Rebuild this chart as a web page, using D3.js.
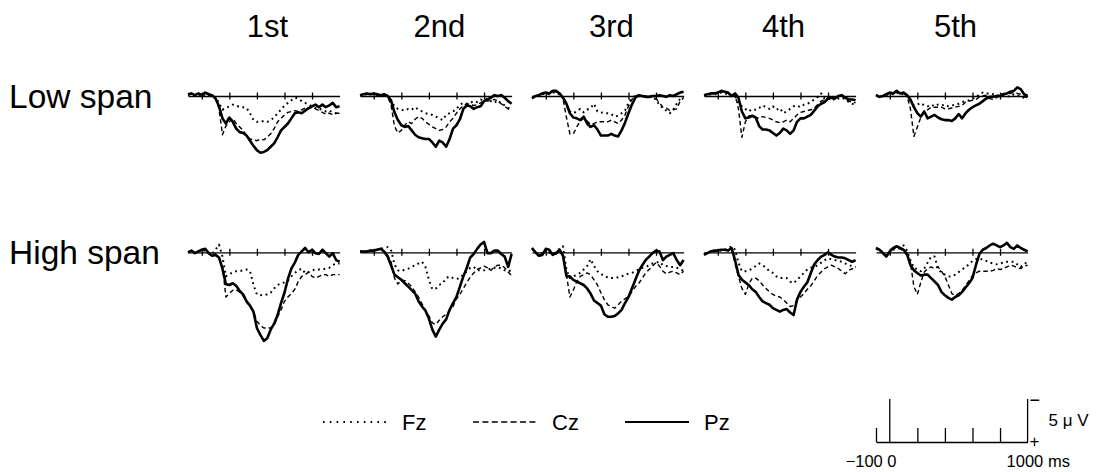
<!DOCTYPE html>
<html><head><meta charset="utf-8">
<script src="https://cdn.jsdelivr.net/npm/d3@7"></script>
<style>
html,body{margin:0;padding:0;background:#fff;}
svg{display:block;font-family:"Liberation Sans",Arial,Helvetica,sans-serif;}
</style></head><body>
<svg id="chart" width="1100" height="472"></svg>
<script>
// Sampling grid of the averaged waveforms (ms, 25 ms steps)
const times = d3.range(-100, 1001, 25);

const trialLabels = ["1st", "2nd", "3rd", "4th", "5th"];
const groupLabels = ["Low span", "High span"];
const channels = ["Fz", "Cz", "Pz"];
const timeTicks = [0, 200, 400, 600, 800];
const scaleTicks = [-100, 200, 400, 600, 800];
const scaleAmplitude = 5; // µV

// Amplitudes in µV (positive plotted downward, negative up)
// ---- Low span ----
const fzLow1 = [-0.1,-0.2,-0.1,-0.2,0.0,-0.2,-0.1,0.0,0.2,0.8,1.6,1.4,1.2,1.0,1.1,
  1.3,1.3,1.4,2.0,2.8,3.0,3.0,2.9,3.0,2.8,2.5,2.0,1.6,1.1,0.8,
  0.5,0.2,0.3,0.6,0.8,1.0,1.2,1.4,1.5,1.6,1.8,1.7,1.9,2.0,2.1];
const czLow1 = [-0.2,-0.3,-0.1,-0.3,-0.1,-0.3,-0.2,-0.1,0.2,1.5,4.5,3.5,3.0,2.6,3.2,
  3.6,4.0,4.6,5.0,5.1,5.2,5.0,5.1,4.8,4.4,3.8,3.0,2.6,2.2,1.9,
  1.8,1.7,1.8,1.6,1.4,1.5,1.3,1.5,1.7,1.9,2.1,2.0,2.2,2.0,2.0];
const pzLow1 = [-0.2,-0.3,-0.1,-0.3,-0.1,-0.4,-0.2,-0.1,0.3,1.2,2.6,3.2,2.5,3.0,3.8,
  4.2,4.3,4.6,5.2,5.8,6.3,6.6,6.5,6.3,5.9,5.5,4.8,4.0,3.6,3.2,
  2.6,2.0,1.9,2.0,1.7,1.4,1.2,1.0,1.3,1.0,1.3,1.1,0.8,1.3,1.2];

const fzLow2 = [-0.1,-0.1,-0.2,-0.2,-0.2,-0.1,-0.1,-0.1,0.0,0.5,1.2,1.5,1.6,1.7,1.5,
  1.6,1.3,1.6,1.8,2.0,2.1,2.2,2.4,2.6,2.8,2.2,2.0,1.8,1.5,1.0,
  0.8,0.9,0.8,0.6,0.7,0.4,0.5,0.3,0.6,0.8,0.5,0.9,1.1,1.4,1.5];
const czLow2 = [-0.1,-0.2,-0.2,-0.3,-0.2,-0.2,-0.1,-0.1,0.1,1.0,3.5,4.3,4.0,3.4,3.0,
  3.2,2.7,2.4,2.6,3.0,3.3,3.6,3.8,4.0,3.9,3.6,3.0,2.6,2.0,1.5,
  1.1,0.9,1.0,1.1,1.0,0.8,0.5,0.6,0.5,0.4,0.6,0.9,1.2,1.5,1.7];
const pzLow2 = [-0.1,-0.2,-0.3,-0.2,-0.3,-0.2,-0.1,-0.2,0.0,0.5,1.9,2.8,3.4,3.6,3.5,
  4.0,4.5,4.8,4.9,5.0,5.0,5.4,5.9,5.2,5.4,5.9,5.0,3.8,3.4,2.7,
  1.5,1.1,1.2,1.5,1.3,1.2,0.6,0.4,0.2,-0.1,0.0,-0.1,0.2,0.6,0.9];

const fzLow3 = [0.1,0.0,-0.1,-0.2,-0.3,-0.2,-0.4,-0.4,-0.2,0.2,1.0,1.8,2.0,1.8,1.5,
  1.9,1.6,1.4,0.9,1.8,1.9,2.0,2.0,2.1,2.4,2.3,2.0,1.7,0.8,0.2,
  0.0,0.0,0.1,0.0,0.1,0.2,0.4,1.1,1.4,1.7,2.0,1.6,0.9,0.3,0.1];
const czLow3 = [0.2,0.0,-0.1,-0.3,-0.3,-0.3,-0.5,-0.5,-0.3,0.3,2.5,4.4,4.4,3.6,2.9,
  2.6,2.9,3.3,3.2,3.0,3.0,3.0,3.0,2.8,3.0,3.2,2.8,2.2,1.2,0.4,
  0.0,-0.1,0.1,0.0,0.2,0.0,0.3,0.8,1.3,1.4,1.7,1.6,1.5,0.6,0.2];
const pzLow3 = [0.3,0.0,-0.1,-0.3,-0.4,-0.3,-0.6,-0.6,-0.3,0.2,0.9,2.0,2.5,2.6,2.8,
  2.4,3.2,3.6,3.4,3.9,4.6,4.6,4.6,4.4,4.6,4.7,4.0,3.1,2.0,1.0,
  0.2,-0.1,0.0,0.1,0.1,0.0,0.0,-0.1,0.0,0.1,-0.1,0.0,-0.2,-0.4,-0.5];

const fzLow4 = [-0.1,-0.1,-0.2,-0.2,-0.3,-0.4,-0.3,-0.2,0.0,0.0,0.8,1.2,1.5,1.8,1.5,
  1.6,1.4,1.1,1.3,1.5,1.2,1.6,1.4,2.0,1.8,1.5,1.2,1.1,1.3,1.0,
  0.9,0.7,0.4,0.1,-0.3,0.3,0.4,0.2,0.5,0.3,0.2,0.4,0.7,0.9,1.0];
const czLow4 = [-0.1,-0.2,-0.3,-0.3,-0.4,-0.5,-0.4,-0.3,0.0,-0.2,1.5,4.8,3.0,2.3,2.4,
  2.5,2.6,2.4,2.5,2.6,2.8,3.0,3.1,3.0,2.8,3.0,2.6,2.2,1.9,1.8,
  1.7,1.6,1.4,1.0,0.6,0.4,0.2,0.3,0.2,0.1,0.0,0.3,0.6,0.7,0.8];
const pzLow4 = [-0.1,-0.2,-0.3,-0.3,-0.4,-0.6,-0.5,-0.4,0.0,-0.3,0.2,1.8,2.6,2.5,2.3,
  2.5,3.5,3.9,3.9,4.0,4.3,4.6,4.3,3.8,4.0,4.4,4.0,3.0,2.6,2.6,
  2.4,2.2,1.7,1.2,0.9,0.7,0.3,0.2,0.3,0.0,-0.1,0.2,0.4,0.4,0.5];

const fzLow5 = [-0.1,0.0,0.0,-0.1,-0.3,-0.2,-0.4,-0.2,-0.2,0.0,0.6,1.1,1.0,0.8,1.1,
  1.2,1.0,1.2,1.0,1.1,1.0,1.2,1.1,1.0,0.9,0.7,0.6,0.5,0.3,0.2,
  -0.2,-0.4,-0.3,-0.3,-0.2,-0.1,0.0,-0.1,0.0,0.1,-0.2,-0.1,0.1,0.2,0.3];
const czLow5 = [-0.1,0.1,0.0,-0.2,-0.4,-0.3,-0.5,-0.3,-0.3,0.0,1.5,4.7,3.6,2.5,1.9,
  1.6,1.3,1.3,1.3,1.3,1.5,1.5,1.4,1.3,1.2,1.1,0.7,0.6,0.5,0.4,
  0.1,0.0,-0.1,0.3,0.4,0.2,-0.1,-0.3,-0.2,-0.3,-0.4,-0.3,-0.2,0.1,0.2];
const pzLow5 = [-0.1,0.1,0.0,-0.2,-0.4,-0.3,-0.6,-0.3,-0.4,-0.1,0.4,1.3,2.0,2.4,1.8,
  2.6,2.4,2.2,2.5,2.7,2.8,2.8,2.9,2.6,2.1,2.6,2.0,1.6,1.3,1.1,
  0.9,0.6,0.3,0.1,0.1,0.0,0.0,-0.2,-0.3,-0.5,-0.6,-1.0,-0.8,-0.2,0.0];

// ---- High span ----
const fzHigh1 = [0.0,-0.1,0.1,-0.1,-0.2,-0.2,0.1,0.2,-0.3,-0.9,0.5,2.8,2.5,2.4,2.2,
  2.2,2.1,2.0,2.2,3.8,4.9,5.0,4.9,4.9,4.7,4.2,3.8,3.6,3.5,3.3,
  2.8,2.4,2.1,1.9,2.4,2.3,2.1,2.0,2.0,2.0,1.9,1.8,1.5,1.3,1.3];
const czHigh1 = [0.0,-0.2,0.1,-0.1,-0.3,-0.3,0.1,0.3,0.2,0.8,1.6,5.2,4.8,4.4,4.4,
  4.6,5.1,5.7,6.3,6.9,8.0,8.5,8.8,8.8,8.8,8.5,7.5,6.7,5.7,5.2,
  4.8,4.3,3.4,2.8,2.6,2.3,2.8,3.0,2.8,2.6,2.6,2.8,2.6,2.6,2.6];
const pzHigh1 = [0.0,-0.2,0.1,-0.1,-0.3,-0.4,0.1,0.4,0.3,0.6,1.9,3.7,3.8,3.6,3.9,
  4.5,4.9,5.7,6.2,6.9,8.8,9.6,10.3,10.0,9.0,8.3,7.3,5.9,4.7,3.1,
  1.9,1.2,0.3,-0.1,-0.5,0.0,-0.3,0.1,0.2,-0.3,0.1,0.5,0.1,0.9,1.1];

const fzHigh2 = [-0.1,-0.1,-0.1,-0.2,-0.2,-0.3,-0.4,-0.5,-0.6,-0.3,1.4,2.1,2.2,2.0,1.9,
  1.7,1.5,1.3,1.1,1.7,3.2,4.3,4.2,3.8,3.6,3.0,2.8,3.0,3.1,3.0,
  2.6,2.2,1.8,1.7,2.1,2.1,2.1,2.0,1.9,1.8,1.7,1.9,2.1,2.2,2.1];
const czHigh2 = [-0.1,-0.1,-0.1,-0.2,-0.1,-0.3,-0.4,-0.1,0.3,1.1,3.0,3.7,3.2,3.3,3.6,
  4.0,4.6,5.2,6.0,6.7,7.4,8.2,8.4,7.9,7.5,7.2,6.8,6.3,5.4,4.9,
  4.2,3.5,2.9,2.4,2.0,1.8,1.6,1.8,2.1,1.7,1.5,1.5,1.8,2.3,2.7];
const pzHigh2 = [-0.1,-0.1,-0.1,-0.2,-0.2,-0.3,-0.4,-0.1,0.5,1.5,2.6,2.9,3.2,3.6,4.0,
  4.4,4.8,5.7,6.3,6.8,7.7,9.0,9.8,9.0,8.3,7.8,6.7,5.9,5.2,4.0,
  2.8,1.8,0.6,0.2,-0.4,-0.9,-1.2,0.1,0.1,-0.2,-0.2,0.2,0.5,1.7,0.2];

const fzHigh3 = [-0.4,0.0,0.2,0.1,-0.3,0.0,0.2,0.0,-0.4,-0.7,2.0,3.0,2.8,2.6,2.4,
  2.0,1.6,0.8,1.6,2.2,2.5,2.8,2.9,3.0,3.0,2.9,2.8,2.6,2.5,2.4,
  2.2,2.0,1.8,1.7,1.5,1.3,1.2,1.1,1.5,1.6,1.7,1.7,1.8,1.9,2.2];
const czHigh3 = [-0.5,0.1,0.3,0.2,-0.3,0.0,0.3,0.2,-0.1,0.4,2.6,5.2,4.4,3.4,2.8,
  2.6,2.4,2.6,3.2,3.8,4.7,5.5,6.1,6.3,6.5,6.1,5.7,5.4,5.2,4.6,
  4.0,3.6,3.0,2.4,2.0,1.6,1.2,1.6,2.2,2.5,2.3,2.2,2.4,2.6,2.2];
const pzHigh3 = [-0.5,0.0,0.4,0.3,-0.4,-0.3,0.3,0.1,-0.3,0.4,2.8,2.8,3.2,3.4,3.6,
  3.8,4.2,4.8,5.6,5.9,6.2,7.2,7.5,7.5,7.4,7.1,6.7,5.9,5.2,4.2,
  3.2,2.2,1.5,0.9,0.5,0.1,-0.2,-0.1,0.9,0.5,0.3,0.1,0.9,1.5,0.9];

const fzHigh4 = [0.2,0.0,-0.1,-0.1,-0.2,-0.2,-0.3,-0.4,-0.7,-0.3,1.2,2.2,2.2,2.1,1.9,
  1.6,1.3,1.5,1.8,2.2,2.4,2.8,3.0,3.0,3.0,3.4,3.6,3.2,2.8,2.4,
  2.0,1.8,1.7,1.5,1.2,0.9,0.7,0.8,0.9,1.0,1.1,1.3,1.5,1.6,1.7];
const czHigh4 = [0.3,0.1,-0.1,-0.2,-0.2,-0.3,-0.3,-0.2,-0.4,1.3,2.8,4.2,4.9,3.7,3.0,
  3.0,3.3,3.8,4.2,4.6,4.9,5.1,5.2,5.5,5.9,6.3,6.2,5.6,5.2,4.8,
  4.3,3.9,3.3,2.7,2.3,1.9,1.7,1.5,1.7,1.9,2.2,2.5,2.1,1.9,2.1];
const pzHigh4 = [0.3,0.1,-0.1,-0.2,-0.2,-0.3,-0.3,-0.2,-0.5,0.9,2.6,3.2,3.5,3.8,4.3,
  4.6,5.2,5.7,5.9,6.1,6.5,6.7,6.9,6.7,6.6,7.0,7.3,5.5,4.6,4.0,
  3.5,2.4,1.4,0.9,0.5,0.3,0.0,0.3,0.5,0.6,0.6,0.7,0.9,1.1,0.9];

const fzHigh5 = [-0.4,-0.3,0.0,0.4,0.0,-0.3,-0.4,-0.5,-0.8,-0.2,0.9,1.8,2.0,2.2,1.9,
  1.2,0.5,0.5,1.9,2.4,2.6,2.8,2.8,2.6,2.3,2.0,1.7,1.4,1.0,0.8,
  0.7,0.9,1.0,1.2,1.3,1.4,1.3,1.2,1.1,1.1,1.1,1.4,1.7,1.3,1.2];
const czHigh5 = [-0.5,-0.3,0.1,0.5,-0.1,-0.4,-0.6,-0.4,-0.2,0.4,1.2,4.0,4.9,3.5,2.3,
  1.9,1.7,1.9,1.7,2.2,2.8,3.8,4.8,5.0,4.8,4.4,3.9,3.3,2.7,2.4,
  2.2,2.2,2.2,2.2,2.1,1.9,2.0,1.9,1.7,1.5,1.6,1.8,1.9,1.6,1.5];
const pzHigh5 = [-0.5,-0.3,0.1,0.5,-0.1,-0.5,-0.7,-0.5,-0.3,0.2,1.5,2.1,2.4,2.7,2.6,
  2.6,3.0,3.4,3.8,4.6,5.0,5.3,5.5,5.2,5.0,4.6,4.1,3.6,3.0,1.5,
  0.2,-0.3,-0.5,-0.8,-1.0,-0.8,-0.6,-0.8,-1.1,-0.6,-0.4,-0.8,-0.5,-0.3,-0.1];

// Table of panels: rows = span groups, columns = presentation order
const panelRows = [
  [[fzLow1, czLow1, pzLow1], [fzLow2, czLow2, pzLow2], [fzLow3, czLow3, pzLow3],
   [fzLow4, czLow4, pzLow4], [fzLow5, czLow5, pzLow5]],
  [[fzHigh1, czHigh1, pzHigh1], [fzHigh2, czHigh2, pzHigh2], [fzHigh3, czHigh3, pzHigh3],
   [fzHigh4, czHigh4, pzHigh4], [fzHigh5, czHigh5, pzHigh5]]
];

// ---- layout & styles ----
const svg = d3.select("#chart");
const panelLeft = 188, panelStep = 172;
const rowBase = [96, 252.3];
const x = d3.scaleLinear().domain([-100, 1000]).range([0, 151.6]);
const y = d3.scaleLinear().domain([0, 5]).range([0, 43]);   // negative up

const lineStyles = {
  Fz: {w: 2, dash: "1.8,3.6"},
  Cz: {w: 1.4, dash: "4.5,3"},
  Pz: {w: 2.6, dash: null}
};

const line = d3.line().x((d, i) => x(times[i])).y(d => y(d));

// column titles
trialLabels.forEach((t, i) => {
  svg.append("text")
    .attr("x", panelLeft + i * panelStep + x(375) + 14)
    .attr("y", 37)
    .attr("text-anchor", "middle")
    .attr("font-size", 31)
    .text(t);
});

// row labels
groupLabels.forEach((t, r) => {
  svg.append("text")
    .attr("x", 9)
    .attr("y", rowBase[r] + 12)
    .attr("font-size", 33.5)
    .text(t);
});

panelRows.forEach((row, r) => {
  row.forEach((series, c) => {
    const g = svg.append("g")
      .attr("transform", `translate(${panelLeft + c * panelStep},${rowBase[r]})`);

    const ax = g.append("g")
      .call(d3.axisBottom(x).tickValues(timeTicks).tickSize(3.5).tickSizeOuter(0).tickFormat(""));
    ax.select(".domain").attr("stroke", "#000").attr("stroke-width", 1.3);
    ax.selectAll(".tick line").attr("y1", -3.5).attr("y2", 3.5)
      .attr("stroke", "#000").attr("stroke-width", 1.3);

    channels.forEach((ch, k) => {
      const st = lineStyles[ch];
      g.append("path")
        .datum(series[k])
        .attr("d", line)
        .attr("fill", "none")
        .attr("stroke", "#000")
        .attr("stroke-width", st.w)
        .attr("stroke-linejoin", "round")
        .attr("stroke-dasharray", st.dash);
    });
  });
});

// legend
const legendX = [323, 473, 625];
const legendDash = {Fz: "1.6,5.2", Cz: "6,3.4", Pz: null};
const legendWidth = {Fz: 1.8, Cz: 1.3, Pz: 2};
channels.forEach((ch, k) => {
  svg.append("line")
    .attr("x1", legendX[k]).attr("x2", legendX[k] + 64)
    .attr("y1", 422).attr("y2", 422)
    .attr("stroke", "#000")
    .attr("stroke-width", legendWidth[ch])
    .attr("stroke-dasharray", legendDash[ch]);
  svg.append("text")
    .attr("x", legendX[k] + 79)
    .attr("y", 430)
    .attr("font-size", 22)
    .text(ch);
});

// calibration bar
const sb = svg.append("g").attr("transform", "translate(876,442)");
const sAx = sb.append("g")
  .call(d3.axisTop(x).tickValues(scaleTicks).tickSize(14).tickSizeOuter(0).tickFormat(""));
sAx.select(".domain").attr("stroke", "#000").attr("stroke-width", 1.3);
sAx.selectAll(".tick line").attr("stroke", "#000").attr("stroke-width", 1.3);
sb.append("line")
  .attr("x1", x(0)).attr("x2", x(0))
  .attr("y1", 0).attr("y2", -y(scaleAmplitude))
  .attr("stroke", "#000").attr("stroke-width", 1.3);
sb.append("line")
  .attr("x1", x(1000)).attr("x2", x(1000))
  .attr("y1", 0).attr("y2", -y(scaleAmplitude))
  .attr("stroke", "#000").attr("stroke-width", 1.3);
sb.append("text").attr("x", x(1000) + 2).attr("y", -y(scaleAmplitude) + 6.5)
  .attr("font-size", 18).text("−");
sb.append("text").attr("x", x(1000) + 2).attr("y", 5)
  .attr("font-size", 17).text("+");
sb.append("text").attr("x", x(1000) + 21).attr("y", -16)
  .attr("font-size", 17).text("5 μ V");
sb.append("text").attr("x", x(0) - 7).attr("y", 25)
  .attr("text-anchor", "end").attr("font-size", 16.5).text("−100");
sb.append("text").attr("x", x(0) + 2).attr("y", 25)
  .attr("text-anchor", "middle").attr("font-size", 16.5).text("0");
sb.append("text").attr("x", x(1000) - 21).attr("y", 25)
  .attr("font-size", 16.5).text("1000 ms");
</script>
</body></html>
